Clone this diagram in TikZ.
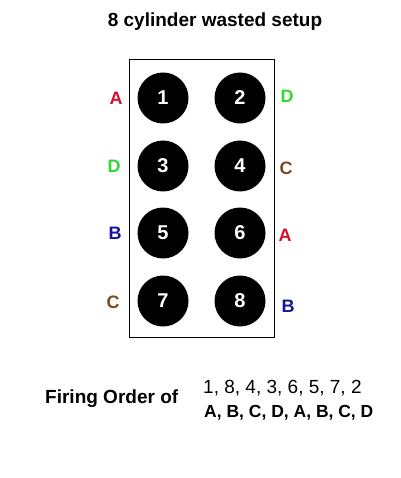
\documentclass[tikz,border=0pt]{standalone}
\usepackage{fontspec}
\setmainfont{Liberation Sans}
\definecolor{cA}{HTML}{D2102E}
\definecolor{cB}{HTML}{1414A0}
\definecolor{cC}{HTML}{7B4A1E}
\definecolor{cD}{HTML}{30D830}
\begin{document}
\begin{tikzpicture}[x=1pt,y=-1pt,
  cyl/.style={circle,fill=black,minimum size=51pt,inner sep=0pt,text=white,font=\fontsize{20}{20}\selectfont\bfseries},
  lab/.style={font=\fontsize{18}{18}\selectfont\bfseries},
  txt/.style={font=\fontsize{19}{19}\selectfont,inner sep=0pt}]
\useasboundingbox (0,0) rectangle (400,478);
\node[txt,font=\fontsize{19}{19}\selectfont\bfseries] (title) at (215,22) {8 cylinder wasted setup};
\node[draw,line width=1pt,minimum width=145pt,minimum height=277pt,inner sep=0pt] (block) at (201.5,198.5) {};
\node[cyl] (c1) at (163,98) {1};
\node[cyl] (c2) at (240,98) {2};
\node[cyl] (c3) at (163,166) {3};
\node[cyl] (c4) at (240,166) {4};
\node[cyl] (c5) at (163,233) {5};
\node[cyl] (c6) at (240,233) {6};
\node[cyl] (c7) at (163,301) {7};
\node[cyl] (c8) at (240,301) {8};
\node[lab,text=cA] (l1) at (116,98) {A};
\node[lab,text=cD] (r2) at (287,96) {D};
\node[lab,text=cD] (l3) at (114,166) {D};
\node[lab,text=cC] (r4) at (286,168) {C};
\node[lab,text=cB] (l5) at (115,233) {B};
\node[lab,text=cA] (r6) at (285,235) {A};
\node[lab,text=cC] (l7) at (113,302) {C};
\node[lab,text=cB] (r8) at (288,306) {B};
\node[txt,font=\fontsize{19}{19}\selectfont\bfseries,anchor=west] (fo) at (45,399) {Firing Order of};
\node[txt,anchor=west] (seq) at (203,388) {1, 8, 4, 3, 6, 5, 7, 2};
\node[txt,font=\fontsize{17.5}{18}\selectfont\bfseries,anchor=west] (let) at (204,413) {A, B, C, D, A, B, C, D};
\end{tikzpicture}
\end{document}
